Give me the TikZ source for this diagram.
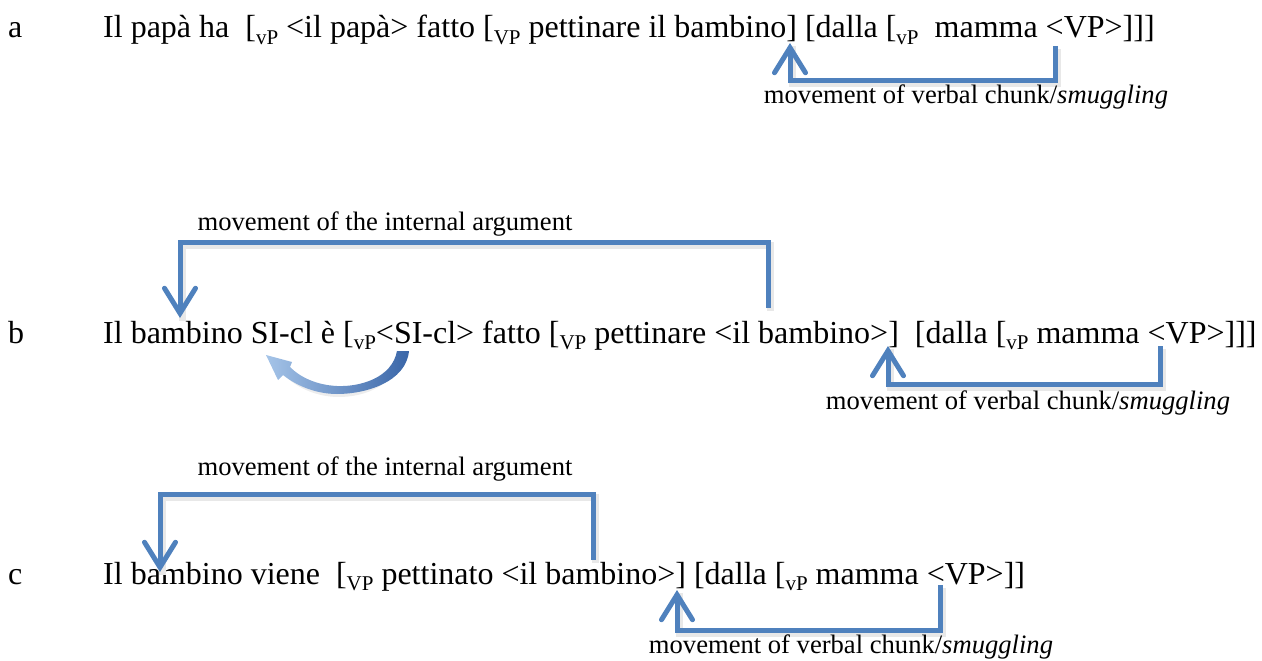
\documentclass[tikz,border=0pt]{standalone}
\usepackage{fontspec}
\setmainfont{Liberation Serif}
\usetikzlibrary{arrows.meta}
\definecolor{chunkblue}{RGB}{79,129,189}
\definecolor{paleblue}{RGB}{165,196,232}
\definecolor{deepblue}{RGB}{58,102,168}
% lowered, smaller label of a bracket
\newcommand\subl[1]{\raisebox{-0.19em}{\fontsize{21}{21}\selectfont #1}}
\begin{document}
\begin{tikzpicture}[x=1pt,y=-1pt,
  sentence/.style={font=\fontsize{32}{38}\selectfont, anchor=base west, inner sep=0pt},
  note/.style={font=\fontsize{26.6}{32}\selectfont, anchor=base, inner sep=0pt},
  move/.style={draw=chunkblue, line width=5pt, line join=miter,
    -{Straight Barb[length=25pt,width=31pt,line width=5pt,line cap=round]},
    preaction={draw=black!9, line width=7pt, -, transform canvas={shift={(2pt,-3pt)}}}}
]
\useasboundingbox (0,0) rectangle (1262,661);

% example (a)
\node[sentence] (mark-a) at (8,38) {a};
\node[sentence] (ex-a) at (103,38) {Il papà ha~ [\subl{vP} <il papà> fatto [\subl{VP} pettinare il bambino] [dalla [\subl{vP}~ mamma <VP>]]]};
\coordinate (a-from) at (1055,46);
\coordinate (a-to) at (790,43);
\draw[move] (a-from) -- ++(0,35) -| (a-to);
\node[note] (a-note) at (966,103) {movement of verbal chunk/\textit{smuggling}};

% example (b)
\node[sentence] (mark-b) at (8,343) {b};
\node[sentence] (ex-b) at (103,343) {Il bambino SI-cl è [\subl{vP}<SI-cl> fatto [\subl{VP} pettinare <il bambino>]~ [dalla [\subl{vP} mamma <VP>]]]};
\node[note] (b-note1) at (385,230) {movement of the internal argument};
\coordinate (b1-from) at (768,308);
\coordinate (b1-to) at (180,318);
\draw[move] (b1-from) -- ++(0,-66) -| (b1-to);
\coordinate (b2-from) at (1160,346);
\coordinate (b2-to) at (888,346);
\draw[move] (b2-from) -- ++(0,38) -| (b2-to);
\node[note] (b-note2) at (1028,409) {movement of verbal chunk/\textit{smuggling}};
% curved block arrow from <SI-cl> back to SI-cl, with a soft shadow
\fill[black!7] (400,355) .. controls (396,386) and (364,397) .. (339,397)
  .. controls (317,397) and (298,388) .. (286,377) -- (290,372)
  .. controls (304,383) and (322,389) .. (339,389)
  .. controls (362,389) and (393,378) .. (400,355) -- cycle;
\shade[left color=paleblue, right color=deepblue]
  (397,351) .. controls (392,378) and (360,387) .. (337,386)
  .. controls (316,385) and (300,377) .. (290,367)
  -- (292,362) -- (266,355) -- (278,380) -- (283,375)
  .. controls (298,387) and (318,394) .. (337,394)
  .. controls (366,394) and (406,382) .. (409,351) -- cycle;

% example (c)
\node[sentence] (mark-c) at (8,584) {c};
\node[sentence] (ex-c) at (103,584) {Il bambino viene~ [\subl{VP} pettinato <il bambino>] [dalla [\subl{vP} mamma <VP>]]};
\node[note] (c-note1) at (385,475) {movement of the internal argument};
\coordinate (c1-from) at (593,560);
\coordinate (c1-to) at (160,572);
\draw[move] (c1-from) -- ++(0,-66) -| (c1-to);
\coordinate (c2-from) at (940,585);
\coordinate (c2-to) at (677,590);
\draw[move] (c2-from) -- ++(0,45) -| (c2-to);
\node[note] (c-note2) at (851,653) {movement of verbal chunk/\textit{smuggling}};
\end{tikzpicture}
\end{document}
